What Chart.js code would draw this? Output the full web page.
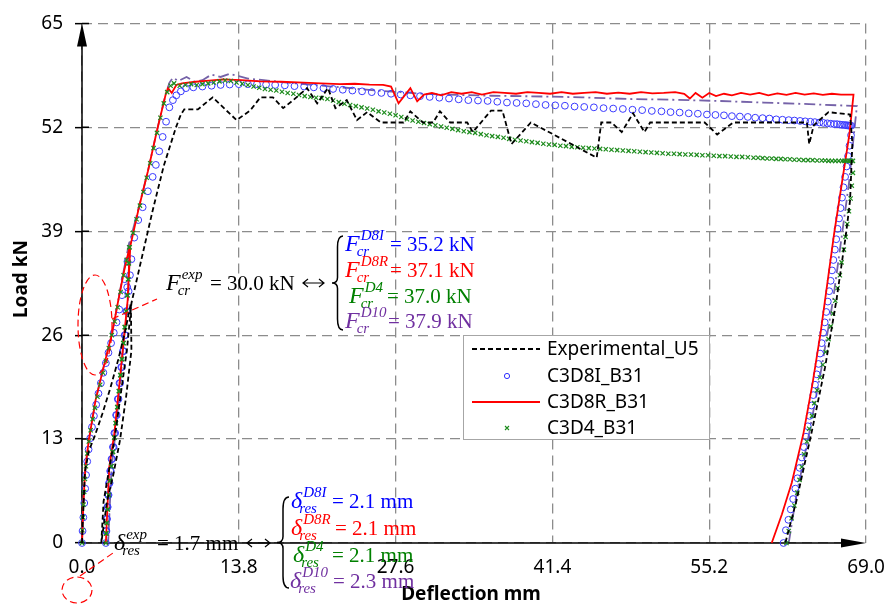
<!DOCTYPE html>
<html>
<head>
<meta charset="utf-8">
<script src="https://cdn.jsdelivr.net/npm/chart.js@4.4.1/dist/chart.umd.min.js"></script>
<style>
  html, body { margin: 0; padding: 0; background: #fff; }
  canvas { display: block; }
</style>
</head>
<body>
<canvas id="c" width="890" height="605"></canvas>
<script>
// Axis ticks
const xTicks = [0, 13.8, 27.6, 41.4, 55.2, 69.0];
const yTicks = [0, 13, 26, 39, 52, 65];

// Cracking loads (kN) and residual deflections (mm): experiment, C3D8I, C3D8R, C3D4, C3D10
const crackTags = ['exp', 'D8I', 'D8R', 'D4', 'D10'];
const crackLoads = [30.0, 35.2, 37.1, 37.0, 37.9];
const residualDefl = [1.7, 2.1, 2.1, 2.1, 2.3];

const legendNames = ['Experimental_U5', 'C3D8I_B31', 'C3D8R_B31', 'C3D4_B31'];

// Experimental_U5 load–deflection (mm, kN)
const expX = [0, 0.25, 0.6, 1.1, 1.8, 2.5, 3.2, 3.8, 4.3,
  4.35, 3.9, 3.35, 2.75, 2.2, 1.7,
  1.9, 2.3, 2.85, 3.4, 3.95, 4.35, 5.2, 6.22, 7.2, 8.27,
  8.7, 9.0, 10.2, 11.5, 13.6, 14.8, 15.7, 16.8, 17.7, 18.6,
  19.8, 20.7, 21.65, 22.3, 23.3, 24.2, 25.1, 26.3, 28.3, 28.9,
  30.0, 30.9, 31.5, 32.4, 33.9, 34.4, 36.0, 37.0, 37.8, 39.5,
  41.5, 45.3, 45.7, 46.6, 47.5, 48.5, 49.5, 50.0, 54.8, 55.9,
  57.3, 63.8, 64.0, 64.4, 65.7, 67.6, 67.8, 67.6, 67.25, 66.4,
  65.4, 64.2, 62.9, 61.9];
const expY = [0, 8.8, 11.5, 13.3, 16.2, 19.4, 23.0, 26.5, 30.0,
  24.1, 18.5, 12.9, 8.5, 5.2, 0,
  5.2, 8.5, 12.9, 18.5, 24.1, 30.0, 35.3, 41.6, 47.2, 52.0,
  53.6, 54.25, 54.25, 55.75, 52.9, 54.1, 55.75, 55.75, 54.4, 55.4,
  56.9, 55.0, 56.9, 54.4, 55.4, 52.9, 53.9, 52.6, 52.6, 54.0,
  52.6, 52.6, 54.0, 52.6, 52.6, 51.4, 54.1, 54.1, 49.9, 52.6,
  51.1, 48.2, 52.6, 52.6, 51.4, 53.75, 51.4, 52.6, 52.6, 51.1,
  52.6, 52.6, 49.9, 52.25, 53.9, 53.6, 50.0, 42.9, 38.75, 30.4,
  22.0, 13.75, 5.4, 0];

// C3D8I_B31
const d8iX = [0, 0.05, 0.12, 0.2, 0.28, 0.36, 0.46, 0.58, 0.72, 0.88,
  1.05, 1.25, 1.45, 1.66, 1.88, 2.1, 2.33, 2.56, 2.8, 3.04, 3.28, 3.52, 3.76, 4.0,
  3.98, 3.9, 3.75, 3.6, 3.45, 3.3, 3.15, 3.0, 2.85, 2.72, 2.6, 2.48, 2.38, 2.3, 2.23, 2.17, 2.13, 2.1,
  2.15, 2.2, 2.26, 2.34, 2.43, 2.53, 2.65, 2.78, 2.92, 3.06, 3.21, 3.36, 3.51, 3.66, 3.81, 3.96,
  4.1, 4.22, 4.35, 4.6, 4.95, 5.34, 5.8, 6.22, 6.5, 6.8, 7.1, 7.4, 7.69, 8.0, 8.3, 8.7, 9.15,
  9.8, 10.6, 11.4, 12.2, 13.0, 13.8, 14.6, 15.4, 16.2, 17.0,
  17.85, 18.7, 19.55, 20.4, 21.25, 22.1, 22.95, 23.8, 24.65, 25.5,
  26.35, 27.2, 28.05, 28.9, 29.75, 30.6, 31.45, 32.3, 33.15, 34.0,
  34.85, 35.7, 36.55, 37.4, 38.25, 39.1, 39.95, 40.8, 41.65, 42.5,
  43.35, 44.2, 45.05, 45.9, 46.75, 47.6, 48.45, 49.3, 50.15, 51.0,
  51.8, 52.6, 53.4, 54.2, 55.0, 55.75, 56.5, 57.2, 57.9, 58.6,
  59.25, 59.9, 60.5, 61.1, 61.65, 62.2, 62.7, 63.2, 63.65, 64.1,
  64.5, 64.9, 65.25, 65.6, 65.9, 66.2, 66.45, 66.7, 66.9, 67.1,
  67.25, 67.4, 67.5, 67.6, 67.7,
  67.68, 67.55, 67.42, 67.29, 67.16, 67.02, 66.89, 66.76, 66.63, 66.5,
  66.38, 66.26, 66.13, 66.01, 65.89, 65.76, 65.64, 65.5, 65.37, 65.23,
  65.1, 64.96, 64.82, 64.67, 64.51, 64.36, 64.2, 64.04, 63.88, 63.72,
  63.53, 63.35, 63.16, 62.97, 62.78, 62.59, 62.38, 62.17, 61.95, 61.74];
const d8iY = [0, 1.5, 3.2, 5.0, 6.8, 8.5, 10.2, 11.7, 13.1, 14.5,
  15.9, 17.3, 18.7, 20.0, 21.3, 22.5, 23.8, 25.0, 26.3, 27.6, 29.2, 31.0, 33.0, 35.2,
  32.0, 29.0, 26.0, 24.0, 22.0, 20.0, 18.0, 16.0, 13.75, 12.0, 10.5, 9.0, 7.5, 6.0, 4.5, 3.0, 1.5, 0,
  1.5, 3.0, 4.5, 6.0, 7.5, 9.0, 10.5, 12.0, 13.75, 16.0, 18.0, 20.0, 22.0, 24.0, 26.0, 29.0,
  31.5, 33.5, 35.5, 38.2, 40.4, 42.0, 44.0, 45.8, 47.3, 49.0, 50.8, 52.7, 54.5, 55.4, 56.0, 56.5, 56.9,
  57.0, 57.1, 57.2, 57.3, 57.35, 57.4, 57.4, 57.4, 57.35, 57.3,
  57.25, 57.15, 57.1, 57.0, 56.9, 56.8, 56.7, 56.6, 56.5, 56.4,
  56.3, 56.2, 56.1, 56.0, 55.9, 55.8, 55.7, 55.6, 55.5, 55.4,
  55.35, 55.3, 55.2, 55.1, 55.05, 55.0, 54.9, 54.8, 54.75, 54.7,
  54.6, 54.55, 54.5, 54.4, 54.35, 54.3, 54.2, 54.15, 54.05, 54.0,
  53.9, 53.85, 53.75, 53.7, 53.6, 53.55, 53.5, 53.4, 53.35, 53.3,
  53.2, 53.15, 53.1, 53.0, 52.95, 52.9, 52.85, 52.8, 52.75, 52.7,
  52.65, 52.6, 52.55, 52.5, 52.45, 52.4, 52.4, 52.35, 52.3, 52.3,
  52.25, 52.25, 52.2, 52.2, 52.2,
  51.0, 49.7, 48.4, 47.1, 45.8, 44.5, 43.2, 41.9, 40.6, 39.3,
  38.0, 36.7, 35.4, 34.1, 32.8, 31.5, 30.2, 28.9, 27.6, 26.3,
  25.0, 23.7, 22.4, 21.1, 19.8, 18.5, 17.2, 15.9, 14.6, 13.3,
  12.0, 10.7, 9.4, 8.1, 6.8, 5.5, 4.2, 2.9, 1.6, 0];

// C3D8R_B31
const d8rX = [0, 0.12, 0.3, 0.6, 1.2, 1.9, 2.65, 3.2, 3.7, 4.2,
  4.02, 3.73, 3.3, 2.85, 2.4, 2.1,
  2.4, 2.85, 3.3, 3.73, 4.02, 4.25, 5.0, 5.8, 6.6, 7.39,
  7.57, 7.9, 8.3, 8.8, 10.0, 11.2, 12.4, 14.0, 15.7, 17.5,
  19.5, 21.0, 22.7, 24.0, 25.3, 26.5, 27.2, 27.86, 28.9, 29.5, 30.1,
  30.8, 31.6, 32.5, 33.4, 34.3, 35.2, 36.2, 37.2, 38.2, 39.2,
  40.2, 41.2, 42.2, 43.2, 44.2, 45.2, 46.2, 47.2, 48.2, 49.2,
  50.2, 51.2, 52.2, 53.0, 53.5, 54.0, 54.6, 55.2, 55.8, 56.5,
  57.2, 58.0, 58.8, 59.6, 60.4, 61.2, 62.0, 62.8, 63.6, 64.4,
  65.2, 66.0, 66.8, 67.9,
  67.55, 66.2, 65.0, 64.3, 63.5, 62.46, 61.6, 60.7];
const d8rY = [0, 5.0, 9.5, 12.9, 17.9, 22.0, 26.25, 30.4, 34.0, 37.1,
  30.4, 26.25, 20.0, 13.75, 9.5, 0,
  9.5, 13.75, 20.0, 26.25, 30.4, 37.1, 41.9, 46.5, 51.6, 56.25,
  56.9, 56.3, 57.3, 57.5, 57.7, 57.85, 58.0, 57.9, 57.75, 57.7,
  57.6, 57.5, 57.4, 57.45, 57.35, 57.3, 57.1, 55.0, 56.9, 55.25, 56.1,
  56.3, 56.0, 56.4, 56.2, 56.4, 56.1, 56.4, 56.3, 56.2, 56.4,
  56.3, 56.2, 56.4, 56.2, 56.3, 56.4, 56.2, 56.35, 56.2, 56.4,
  56.25, 56.3, 56.4, 56.2, 55.6, 56.3, 55.7, 56.3, 55.9, 56.2,
  56.0, 56.3, 56.1, 56.3, 56.0, 56.25, 56.05, 56.3, 56.1, 56.25,
  56.05, 56.2, 56.1, 56.1,
  51.25, 38.75, 26.25, 20.0, 13.75, 7.5, 3.6, 0];

// C3D4_B31
const d4X = [0, 0.04, 0.08, 0.13, 0.19, 0.26, 0.35, 0.46, 0.6, 0.76,
  0.94, 1.14, 1.36, 1.6, 1.85, 2.1, 2.36, 2.62, 2.88, 3.14, 3.4, 3.66, 3.92, 4.15,
  4.1, 4.05, 3.98, 3.88, 3.76, 3.63, 3.5, 3.37, 3.24, 3.1,
  2.96, 2.83, 2.7, 2.57, 2.45, 2.34, 2.25, 2.17, 2.12, 2.1,
  2.15, 2.2, 2.28, 2.37, 2.48, 2.6, 2.73, 2.86, 2.99, 3.13,
  3.27, 3.4, 3.53, 3.66, 3.79, 3.91, 4.01, 4.08, 4.13, 4.2,
  4.5, 4.8, 5.1, 5.4, 5.7, 6.0, 6.3, 6.6, 6.9, 7.2,
  7.5, 7.8, 8.1, 8.6, 9.1, 9.6, 10.1, 10.6, 11.1, 11.6,
  12.1, 12.6, 13.1, 13.6, 14.1, 14.6, 15.1, 15.6, 16.1, 16.6,
  17.1, 17.6, 18.1, 18.6, 19.1, 19.6, 20.1, 20.6, 21.1, 21.6,
  22.1, 22.6, 23.1, 23.6, 24.1, 24.6, 25.1, 25.6, 26.1, 26.6,
  27.1, 27.6, 28.1, 28.6, 29.1, 29.6, 30.1, 30.6, 31.1, 31.6,
  32.1, 32.6, 33.1, 33.6, 34.1, 34.6, 35.1, 35.6, 36.1, 36.6,
  37.1, 37.6, 38.1, 38.6, 39.1, 39.6, 40.1, 40.6, 41.1, 41.6,
  42.1, 42.6, 43.1, 43.6, 44.1, 44.6, 45.1, 45.6, 46.1, 46.6,
  47.1, 47.6, 48.1, 48.6, 49.1, 49.6, 50.1, 50.6, 51.1, 51.6,
  52.1, 52.6, 53.1, 53.6, 54.1, 54.6, 55.1, 55.6, 56.1, 56.6,
  57.1, 57.6, 58.1, 58.6, 59.1, 59.5, 59.9, 60.3, 60.7, 61.1,
  61.5, 61.9, 62.3, 62.7, 63.1, 63.5, 63.9, 64.3, 64.7, 65.1,
  65.4, 65.7, 66.0, 66.3, 66.6, 66.9, 67.1, 67.3, 67.5, 67.7,
  67.85,
  67.85, 67.75, 67.65, 67.5, 67.35, 67.2, 67.05, 66.85, 66.7, 66.5,
  66.3, 66.1, 65.9, 65.7, 65.45, 65.2, 64.95, 64.7, 64.45, 64.25,
  64.0, 63.8, 63.55, 63.35, 63.15, 62.95, 62.7, 62.45, 62.2, 62.0];
const d4Y = [0, 1.6, 3.2, 4.8, 6.4, 8.0, 9.6, 11.2, 12.7, 14.1,
  15.5, 16.9, 18.3, 19.8, 21.3, 22.8, 24.4, 26.0, 27.7, 29.5, 31.4, 33.5, 35.4, 37.0,
  35.0, 33.0, 31.0, 29.0, 27.0, 25.0, 23.0, 21.0, 19.0, 17.0,
  15.0, 13.2, 11.4, 9.6, 7.8, 6.0, 4.2, 2.5, 1.2, 0,
  1.2, 2.5, 4.2, 6.0, 7.8, 9.6, 11.4, 13.2, 15.0, 17.0,
  19.0, 21.0, 23.0, 25.0, 27.0, 29.0, 31.0, 33.0, 35.0, 37.0,
  38.8, 40.5, 42.2, 43.9, 45.7, 47.5, 49.4, 51.3, 53.2, 55.0,
  56.4, 57.2, 57.5, 57.2, 57.3, 57.4, 57.3, 57.4, 57.5, 57.6,
  57.75, 57.85, 57.8, 57.6, 57.45, 57.3, 57.1, 56.95, 56.8, 56.7,
  56.6, 56.45, 56.3, 56.2, 56.05, 55.9, 55.8, 55.7, 55.65, 55.55,
  55.35, 55.15, 54.95, 54.8, 54.65, 54.5, 54.35, 54.2, 54.0, 53.85,
  53.7, 53.5, 53.3, 53.0, 52.85, 52.7, 52.55, 52.4, 52.25, 52.1,
  51.95, 51.8, 51.65, 51.5, 51.4, 51.3, 51.15, 51.0, 50.9, 50.8,
  50.7, 50.55, 50.45, 50.35, 50.25, 50.15, 50.05, 49.95, 49.85, 49.8,
  49.7, 49.65, 49.55, 49.5, 49.45, 49.4, 49.35, 49.3, 49.25, 49.2,
  49.15, 49.1, 49.05, 49.0, 48.95, 48.9, 48.85, 48.8, 48.75, 48.7,
  48.7, 48.65, 48.6, 48.6, 48.55, 48.5, 48.5, 48.45, 48.4, 48.4,
  48.35, 48.3, 48.3, 48.25, 48.2, 48.2, 48.15, 48.1, 48.1, 48.05,
  48.05, 48.0, 48.0, 47.95, 47.95, 47.9, 47.9, 47.9, 47.85, 47.85,
  47.85, 47.8, 47.8, 47.8, 47.8, 47.8, 47.8, 47.8, 47.8, 47.8,
  47.8,
  46.3, 44.7, 43.1, 41.5, 39.9, 38.3, 36.7, 35.1, 33.5, 31.9,
  30.3, 28.7, 27.1, 25.5, 23.9, 22.3, 20.7, 19.1, 17.5, 15.9,
  14.3, 12.7, 11.1, 9.5, 7.9, 6.3, 4.7, 3.1, 1.5, 0];

// C3D10 (not listed in the legend)
const d10X = [0, 0.12, 0.3, 0.62, 1.2, 1.9, 2.65, 3.2, 3.7, 4.2,
  4.05, 3.75, 3.35, 2.95, 2.6, 2.3,
  2.6, 2.95, 3.35, 3.75, 4.05, 4.25, 5.0, 5.8, 6.6, 7.3,
  7.7, 8.0, 8.5, 9.2, 9.9, 10.6, 11.4, 12.2, 13.0, 13.8,
  14.6, 16.0, 18.0, 20.0, 22.0, 24.0, 26.0, 28.0, 30.0, 33.0,
  36.0, 40.9, 44.0, 48.0, 52.0, 56.0, 60.0, 64.0, 68.2,
  68.0, 67.5, 66.9, 66.1, 65.1, 64.0, 62.8, 62.2];
const d10Y = [0, 5.0, 9.5, 12.9, 17.9, 22.0, 26.25, 30.4, 34.3, 37.9,
  30.4, 26.25, 20.0, 13.75, 9.5, 0,
  9.5, 13.75, 20.0, 26.25, 30.4, 37.9, 42.0, 46.5, 51.6, 55.8,
  57.6, 58.2, 57.8, 58.3, 57.7, 57.9, 58.6, 58.3, 58.7, 58.4,
  58.1, 57.9, 57.6, 57.35, 57.1, 56.85, 56.6, 56.4, 56.2, 56.05,
  55.95, 55.85, 55.75, 55.55, 55.45, 55.3, 55.1, 54.9, 54.65,
  52.0, 45.0, 38.75, 30.4, 22.0, 13.75, 5.4, 0];

const pts = (xs, ys) => xs.map((x, i) => ({ x: x, y: ys[i] }));

const SANS = '"Noto Sans", "Open Sans", sans-serif';
const SERIF = '"Liberation Serif", "DejaVu Serif", serif';
const BLUE = '#0000ff', RED = '#ff0000', GREEN = '#008000', PURPLE = '#7030a0';

// Symbol with superscript and subscript, followed by "= value unit"
function symbolText(ctx, x, base, sym, sup, sub, rest, restX, color) {
  ctx.fillStyle = color;
  ctx.textAlign = 'left';
  ctx.textBaseline = 'alphabetic';
  ctx.font = 'italic 24px ' + SERIF;
  ctx.fillText(sym, x, base);
  const w = ctx.measureText(sym).width;
  ctx.font = 'italic 15px ' + SERIF;
  ctx.fillText(sup, x + w + 1, base - 11);
  ctx.fillText(sub, x + w - 3, base + 5);
  ctx.font = '21px ' + SERIF;
  ctx.fillText(rest, restX, base);
}

function doubleArrow(ctx, x1, x2, y) {
  ctx.strokeStyle = '#000';
  ctx.lineWidth = 1.2;
  ctx.setLineDash([]);
  ctx.beginPath();
  ctx.moveTo(x1, y); ctx.lineTo(x2, y);
  ctx.moveTo(x1 + 5, y - 4); ctx.lineTo(x1, y); ctx.lineTo(x1 + 5, y + 4);
  ctx.moveTo(x2 - 5, y - 4); ctx.lineTo(x2, y); ctx.lineTo(x2 - 5, y + 4);
  ctx.stroke();
}

function brace(ctx, x, y1, y2, w) {
  const ym = (y1 + y2) / 2, xm = x + w / 2;
  ctx.strokeStyle = '#000';
  ctx.lineWidth = 1.5;
  ctx.setLineDash([]);
  ctx.beginPath();
  ctx.moveTo(x + w, y1);
  ctx.quadraticCurveTo(xm, y1, xm, y1 + w);
  ctx.lineTo(xm, ym - w / 2);
  ctx.quadraticCurveTo(xm, ym, x, ym);
  ctx.quadraticCurveTo(xm, ym, xm, ym + w / 2);
  ctx.lineTo(xm, y2 - w);
  ctx.quadraticCurveTo(xm, y2, x + w, y2);
  ctx.stroke();
}

const axesPlugin = {
  id: 'arrowAxes',
  beforeDatasetsDraw(chart) {
    const ctx = chart.ctx;
    const { left, right, top, bottom } = chart.chartArea;
    const x0 = chart.scales.x.getPixelForValue(0);
    const y0 = chart.scales.y.getPixelForValue(0);
    ctx.save();
    ctx.strokeStyle = '#000';
    ctx.fillStyle = '#000';
    ctx.lineWidth = 1.5;
    ctx.beginPath();
    ctx.moveTo(x0, bottom); ctx.lineTo(x0, top + 12);
    ctx.moveTo(left, y0); ctx.lineTo(right - 12, y0);
    yTicks.forEach(v => {
      const py = chart.scales.y.getPixelForValue(v);
      ctx.moveTo(x0, py); ctx.lineTo(x0 + 7, py);
    });
    ctx.stroke();
    ctx.beginPath();
    ctx.moveTo(x0, top); ctx.lineTo(x0 - 5, top + 23); ctx.lineTo(x0 + 5, top + 23); ctx.closePath();
    ctx.fill();
    ctx.beginPath();
    ctx.moveTo(right, y0); ctx.lineTo(right - 25, y0 - 4.5); ctx.lineTo(right - 25, y0 + 4.5); ctx.closePath();
    ctx.fill();
    ctx.restore();
  },
  afterDraw(chart) {
    const ctx = chart.ctx;
    ctx.save();

    // axis titles
    ctx.fillStyle = '#000';
    ctx.font = 'bold 19px ' + SANS;
    ctx.textAlign = 'center';
    ctx.textBaseline = 'middle';
    ctx.fillText('Deflection mm', 471, 595);
    ctx.save();
    ctx.translate(22, 279);
    ctx.rotate(-Math.PI / 2);
    ctx.fillText('Load kN', 0, 0);
    ctx.restore();

    // legend
    const lx = 463.5, ly = 335.5, lw = 246, lh = 104;
    ctx.fillStyle = '#fff';
    ctx.fillRect(lx, ly, lw, lh);
    ctx.strokeStyle = '#a6a6a6';
    ctx.lineWidth = 1;
    ctx.strokeRect(lx, ly, lw, lh);
    const rows = [349, 376, 402, 428];
    ctx.font = '19px ' + SANS;
    ctx.textAlign = 'left';
    ctx.textBaseline = 'middle';
    legendNames.forEach((name, i) => {
      ctx.fillStyle = '#000';
      ctx.fillText(name, 547, rows[i] + 1);
    });
    ctx.strokeStyle = '#000'; ctx.lineWidth = 1.8; ctx.setLineDash([5, 3]);
    ctx.beginPath(); ctx.moveTo(472, rows[0]); ctx.lineTo(540, rows[0]); ctx.stroke();
    ctx.setLineDash([]);
    ctx.strokeStyle = '#3030ff'; ctx.lineWidth = 1;
    ctx.beginPath(); ctx.arc(507, rows[1], 2.6, 0, Math.PI * 2); ctx.stroke();
    ctx.strokeStyle = RED; ctx.lineWidth = 2;
    ctx.beginPath(); ctx.moveTo(472, rows[2]); ctx.lineTo(540, rows[2]); ctx.stroke();
    ctx.strokeStyle = '#1e8c1e'; ctx.lineWidth = 1.1;
    ctx.beginPath();
    ctx.moveTo(505, rows[3] - 2); ctx.lineTo(509, rows[3] + 2);
    ctx.moveTo(509, rows[3] - 2); ctx.lineTo(505, rows[3] + 2);
    ctx.stroke();

    // cracking load note
    const colors = ['#000', BLUE, RED, GREEN, PURPLE];
    symbolText(ctx, 166, 290, 'F', crackTags[0], 'cr', '= ' + crackLoads[0].toFixed(1) + ' kN', 210, '#000');
    doubleArrow(ctx, 303, 324, 283);
    brace(ctx, 332, 236, 330, 11);
    const fRows = [[345, 251, 390], [345, 277, 390], [349, 303, 387], [345, 328, 388]];
    fRows.forEach((r, i) => {
      symbolText(ctx, r[0], r[1], 'F', crackTags[i + 1], 'cr', '= ' + crackLoads[i + 1].toFixed(1) + ' kN', r[2], colors[i + 1]);
    });

    // residual deflection note
    symbolText(ctx, 114, 550, 'δ', crackTags[0], 'res', '= ' + residualDefl[0].toFixed(1) + ' mm', 157, '#000');
    doubleArrow(ctx, 247, 270, 543);
    brace(ctx, 277, 497, 588, 12);
    const dRows = [[291, 508, 332], [291, 535, 335], [293, 562, 332], [290, 588, 333]];
    dRows.forEach((r, i) => {
      symbolText(ctx, r[0], r[1], 'δ', crackTags[i + 1], 'res', '= ' + residualDefl[i + 1].toFixed(1) + ' mm', r[2], colors[i + 1]);
    });

    // dashed red call-outs
    ctx.strokeStyle = RED;
    ctx.lineWidth = 1.2;
    ctx.setLineDash([7, 4]);
    ctx.beginPath(); ctx.ellipse(95, 325, 17, 50, 0, 0, Math.PI * 2); ctx.stroke();
    ctx.beginPath(); ctx.moveTo(112, 319); ctx.lineTo(157, 299); ctx.stroke();
    ctx.beginPath(); ctx.ellipse(77, 590, 15, 13, 0, 0, Math.PI * 2); ctx.stroke();
    ctx.beginPath(); ctx.moveTo(80, 576); ctx.lineTo(113, 553); ctx.stroke();

    ctx.restore();
  }
};

new Chart(document.getElementById('c'), {
  type: 'scatter',
  data: {
    datasets: [
      {
        label: legendNames[0], data: pts(expX, expY), order: 1,
        showLine: true, borderColor: '#000', borderWidth: 1.8, borderDash: [5, 3],
        pointRadius: 0, fill: false, tension: 0, clip: 12
      },
      {
        label: legendNames[1], data: pts(d8iX, d8iY), order: 4,
        showLine: false, pointStyle: 'circle', pointRadius: 3.4, pointBorderWidth: 1,
        pointBorderColor: '#3a3aff', pointBackgroundColor: 'rgba(0,0,0,0)', clip: 12
      },
      {
        label: legendNames[2], data: pts(d8rX, d8rY), order: 3,
        showLine: true, borderColor: RED, borderWidth: 1.8,
        pointRadius: 0, fill: false, tension: 0, clip: 12
      },
      {
        label: legendNames[3], data: pts(d4X, d4Y), order: 2,
        showLine: false, pointStyle: 'crossRot', pointRadius: 3, pointBorderWidth: 1.2,
        pointBorderColor: '#1e8c1e', pointBackgroundColor: '#1e8c1e', clip: 12
      },
      {
        label: 'C3D10_B31', data: pts(d10X, d10Y), order: 5,
        showLine: true, borderColor: '#7562a8', borderWidth: 1.8, borderDash: [11, 4, 2, 4],
        pointRadius: 0, fill: false, tension: 0, clip: 12
      }
    ]
  },
  options: {
    responsive: false,
    animation: false,
    devicePixelRatio: 1,
    layout: { padding: { left: 0, right: 24, top: 23, bottom: 0 } },
    plugins: { legend: { display: false }, tooltip: { enabled: false } },
    scales: {
      x: {
        type: 'linear', min: 0, max: 69,
        afterFit(s) { s.height = 62; },
        afterBuildTicks(s) { s.ticks = xTicks.map(v => ({ value: v })); },
        ticks: {
          callback: v => Number(v).toFixed(1),
          font: { family: SANS, size: 19 }, color: '#000',
          padding: 3, maxRotation: 0, autoSkip: false
        },
        grid: { color: '#8c8c8c', lineWidth: 1.3, tickLength: 10, tickColor: 'rgba(0,0,0,0)' },
        border: { display: false, dash: [10, 6] }
      },
      y: {
        type: 'linear', min: 0, max: 65,
        afterFit(s) { s.width = 82; },
        afterBuildTicks(s) { s.ticks = yTicks.map(v => ({ value: v })); },
        ticks: {
          callback: v => String(v),
          font: { family: SANS, size: 19 }, color: '#000',
          padding: 12, autoSkip: false
        },
        grid: { color: '#8c8c8c', lineWidth: 1.3, tickLength: 7, tickColor: '#000', tickWidth: 1.5 },
        border: { display: false, dash: [10, 6] }
      }
    }
  },
  plugins: [axesPlugin]
});
</script>
</body>
</html>
